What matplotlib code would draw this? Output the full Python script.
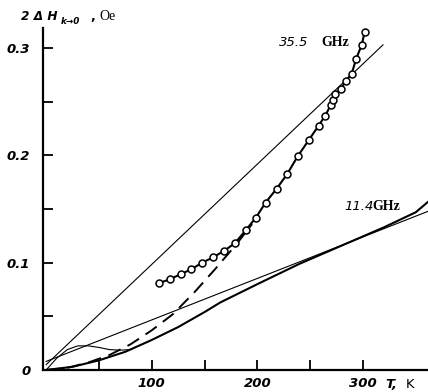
import matplotlib
matplotlib.use("Agg")
import matplotlib.pyplot as plt
from matplotlib import font_manager

# 35.5 GHz measured points
T_355 = [106.9, 117.1, 127.5, 137.6, 147.7, 158.1, 168.2, 178.7, 188.8, 198.6,
         207.8, 218.2, 228.2, 238.1, 248.5, 258.0, 264.3, 269.4, 271.6, 273.5,
         278.9, 283.9, 289.3, 293.6, 298.8, 301.6]
H_355 = [0.081, 0.0845, 0.0894, 0.0939, 0.100, 0.105, 0.1109, 0.1181, 0.1300, 0.1420,
         0.1560, 0.1689, 0.1825, 0.1990, 0.2140, 0.2277, 0.2370, 0.2467, 0.2519, 0.2572,
         0.2616, 0.2696, 0.2760, 0.2901, 0.3029, 0.3150]

# 35.5 GHz thin straight line
T_line355 = [0, 319]
H_line355 = [0.005, 0.303]

# dashed curve
T_dash = [0, 20, 40, 60, 80, 100, 120, 140, 160, 180, 195]
H_dash = [0.000, 0.002, 0.007, 0.014, 0.024, 0.037, 0.052, 0.072, 0.094, 0.117, 0.136]

# 11.4 GHz thick curve
T_114 = [0, 25, 50, 75, 100, 125, 150, 165, 200, 240, 280, 320, 350, 362]
H_114 = [0.000, 0.003, 0.009, 0.017, 0.028, 0.040, 0.054, 0.063, 0.080, 0.099, 0.116, 0.133, 0.147, 0.157]

# 11.4 GHz thin straight line
T_line114 = [0, 362]
H_line114 = [0.008, 0.148]

# thin hump curve near origin
T_hump = [0, 10, 20, 30, 40, 50, 60, 70, 80]
H_hump = [0.000, 0.011, 0.019, 0.0225, 0.0225, 0.021, 0.019, 0.0185, 0.019]

W, H = 428, 392
fig = plt.figure(figsize=(W / 100, H / 100), dpi=100)
ax = fig.add_axes([43 / W, (H - 370) / H, (W - 43) / W, (370 - 28) / H])
ax.set_xlim(-3, 361.6)
ax.set_ylim(0, 0.3187)

ax.plot(T_line355, H_line355, color="black", lw=0.8)
ax.plot(T_line114, H_line114, color="black", lw=0.8)
ax.plot(T_hump, H_hump, color="black", lw=0.8)
ax.plot(T_114, H_114, color="black", lw=1.5)
ax.plot(T_dash, H_dash, color="black", lw=1.4, dashes=(7, 4))
ax.plot(T_355, H_355, color="black", lw=1.5, marker="o", ms=5,
        mfc="white", mec="black", mew=1.1)

for s in ["top", "right"]:
    ax.spines[s].set_visible(False)
for s in ["left", "bottom"]:
    ax.spines[s].set_linewidth(1.6)

names = {f.name for f in font_manager.fontManager.ttflist}
numfam = ["Liberation Sans Narrow", "DejaVu Sans"] if "Liberation Sans Narrow" in names else ["DejaVu Sans"]
numsize = 11 if "Liberation Sans Narrow" in names else 9.5

tickfont = dict(family=numfam, style="italic", weight="bold", size=numsize)
ax.set_xticks([50, 100, 150, 200, 250, 300])
ax.set_xticklabels(["", "100", "", "200", "", "300"], **tickfont)
ax.set_yticks([0, 0.05, 0.1, 0.15, 0.2, 0.25, 0.3])
ax.set_yticklabels(["0", "", "0.1", "", "0.2", "", "0.3"], **tickfont)
ax.tick_params(direction="in", length=7, width=1.3, pad=5)
ax.tick_params(axis="y", pad=9)


def ft(x, y, s, **kw):
    fig.text(x / W, 1 - y / H, s, va="center", **kw)


ft(21, 17, "2 Δ H", family=numfam, style="italic", weight="bold", size=numsize - 0.8)
ft(61, 22, "k→0", family="DejaVu Sans", style="italic", weight="bold", size=6.3)
ft(90, 17, ",", family="DejaVu Sans", weight="bold", size=9)
ft(99, 17, "Oe", family="Liberation Serif", size=10)

ft(279, 43, "35.5", family=numfam, style="italic", size=numsize)
ft(321, 43, "GHz", family="Liberation Serif", weight="bold", size=10)
ft(344, 206, "11.4", family=numfam, style="italic", size=numsize)
ft(372, 206, "GHz", family="Liberation Serif", weight="bold", size=10)

ft(385, 384, "T,", family=numfam, style="italic", weight="bold", size=numsize)
ft(406, 384, "K", family="DejaVu Sans", size=9.5)

fig.savefig("out.png", dpi=100)
